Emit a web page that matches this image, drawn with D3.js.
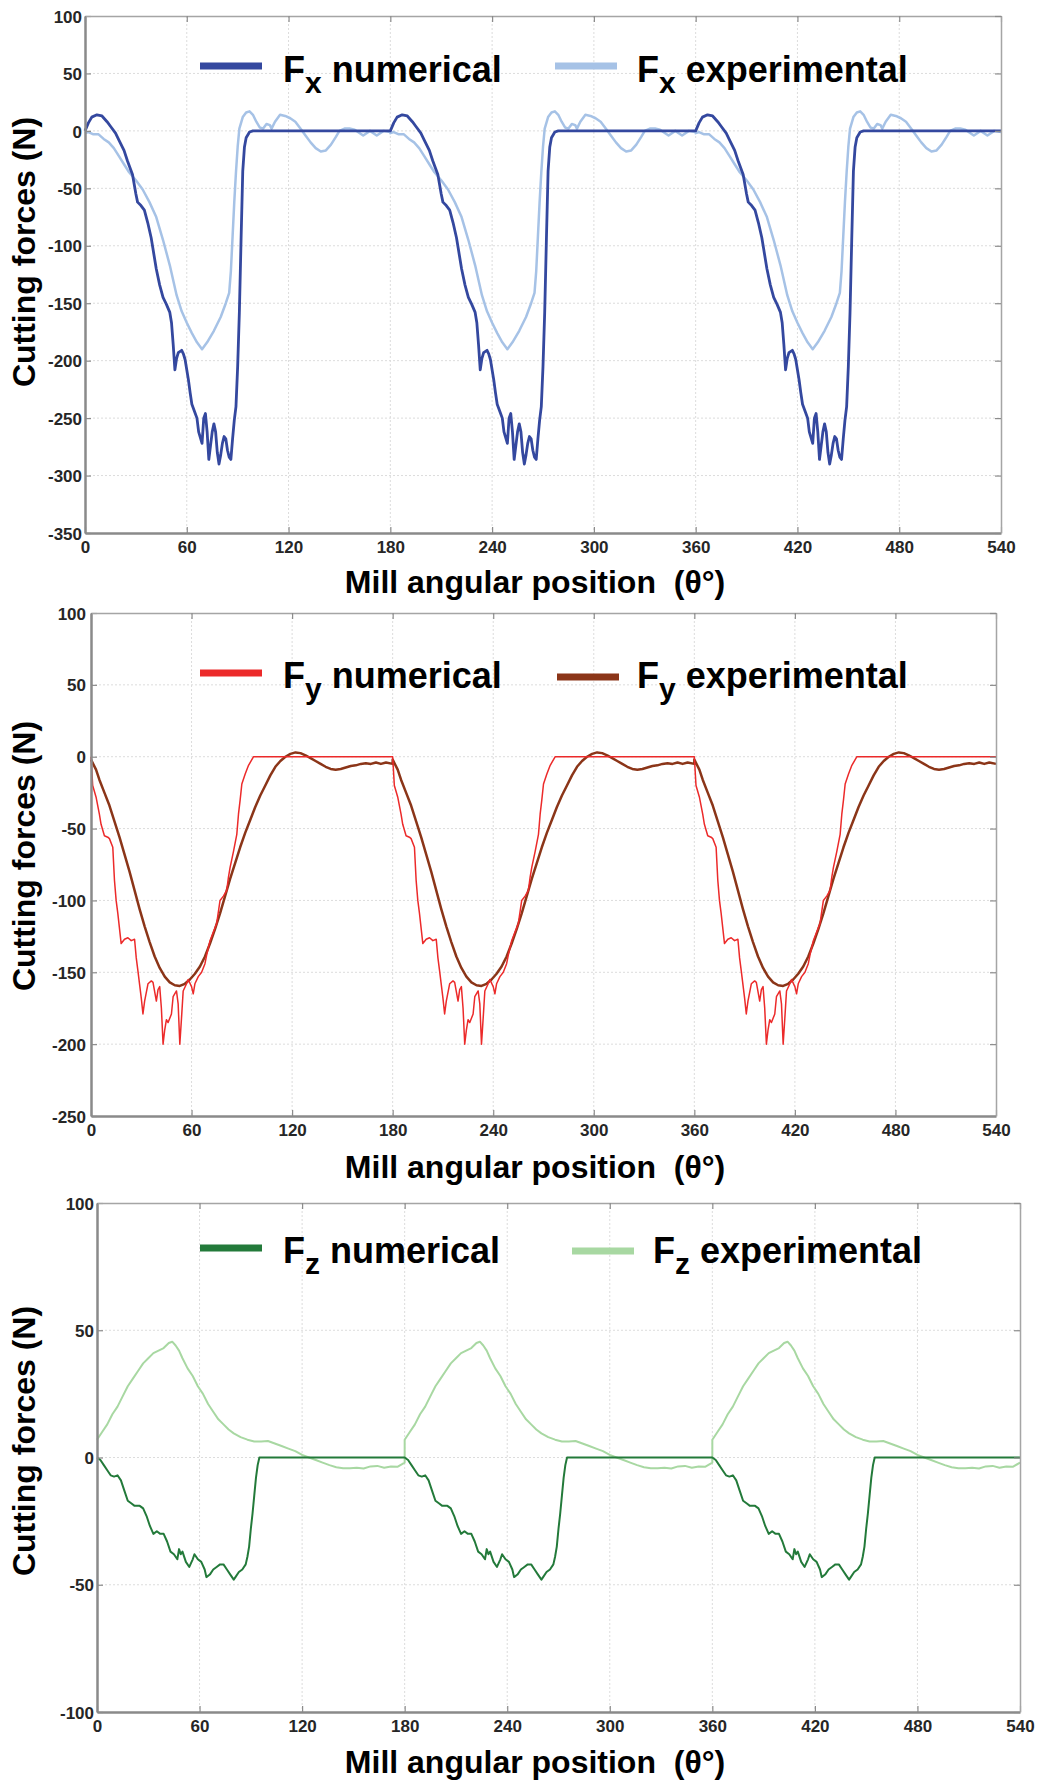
<!DOCTYPE html>
<html>
<head>
<meta charset="utf-8">
<script src="https://cdn.jsdelivr.net/npm/d3@7"></script>
<style>
    body { margin: 0; background: #fff; }
    svg { display: block; font-family: "Liberation Sans", Arial, sans-serif; }
    text { white-space: pre; }
</style>
</head>
<body>
<svg id="chart" width="1055" height="1782"></svg>
<script>
// angle ticks shared by the three plots
const thetaTicks = [0, 60, 120, 180, 240, 300, 360, 420, 480, 540];
// the profiles below cover one revolution (0-180 deg), shown three times
const revolutions = [0, 180, 360];

const fxTicks = [100, 50, 0, -50, -100, -150, -200, -250, -300, -350];
const fyTicks = [100, 50, 0, -50, -100, -150, -200, -250];
const fzTicks = [100, 50, 0, -50, -100];

// [theta, force N]
const fxNumerical = [[0,0],[2,7],[4,12],[7,14],[10,13],[13,8],[15,4],[18,-2],[20,-8],[23,-17],[25,-26],[28,-38],[30,-55],[31,-62],[33,-65],[35,-69],[37,-80],[39,-93],[40,-102],[42,-120],[44,-134],[46,-145],[48,-151],[50,-158],[51,-167],[52,-186],[53,-208],[54,-198],[55,-193],[57,-191],[58,-194],[59,-199],[61,-217],[62,-228],[63,-238],[65,-246],[66,-250],[67,-262],[69,-272],[70,-250],[71,-246],[72,-262],[73,-286],[74,-274],[75,-262],[76,-255],[77,-262],[78,-280],[79,-290],[80,-282],[81,-272],[82,-266],[83,-268],[84,-278],[85,-284],[86,-286],[87,-268],[88,-252],[89,-240],[90,-205],[91,-158],[92,-95],[93,-35],[94,-14],[95,-6],[97,-1],[99,0],[180,0]];
const fxExperimental = [[0,-2],[2,-1],[5,-3],[8,-3],[11,-7],[14,-10],[17,-15],[20,-22],[23,-29],[26,-36],[30,-43],[34,-51],[38,-62],[42,-75],[46,-95],[50,-117],[54,-143],[57,-157],[60,-167],[63,-176],[66,-184],[69,-190],[72,-184],[76,-174],[80,-162],[83,-150],[85,-141],[86,-122],[87,-92],[88,-62],[89,-36],[90,-14],[91,2],[93,12],[95,16],[97,17],[99,14],[101,8],[103,3],[105,2],[107,6],[109,5],[110,2],[112,8],[115,14],[118,13],[121,11],[124,8],[127,2],[130,-4],[133,-10],[136,-15],[139,-18],[142,-17],[145,-12],[148,-5],[150,0],[153,2],[156,2],[159,1],[162,-2],[164,-4],[166,-2],[168,0],[170,-2],[172,-4],[174,-2],[176,0],[180,-1]];

const fyNumerical = [[0,0],[1,-20],[3,-28],[5,-40],[6,-47],[8,-55],[10,-56],[11,-57],[13,-63],[14,-86],[15,-100],[16,-109],[18,-130],[20,-127],[22,-126],[24,-128],[26,-127],[27,-140],[28,-149],[30,-168],[31,-179],[32,-170],[34,-158],[36,-156],[37,-157],[39,-170],[40,-162],[41,-160],[42,-175],[43,-200],[44,-190],[45,-183],[46,-185],[48,-179],[49,-167],[51,-163],[52,-172],[53,-200],[54,-182],[55,-163],[57,-158],[58,-155],[60,-160],[61,-165],[62,-158],[64,-153],[66,-150],[68,-144],[69,-138],[71,-128],[73,-122],[75,-116],[77,-100],[79,-97],[81,-93],[82,-84],[83,-77],[85,-66],[87,-54],[88,-40],[89,-30],[90,-19],[92,-12],[94,-6],[97,0],[180,0]];
const fyExperimental = [[0,-2],[3,-9],[5,-16],[8,-25],[11,-34],[14,-45],[17,-56],[20,-68],[23,-80],[26,-93],[29,-106],[32,-118],[35,-129],[38,-139],[41,-147],[44,-153],[47,-157],[50,-159],[53,-159.5],[56,-158],[59,-155],[62,-151],[65,-146],[68,-139],[71,-130],[74,-120],[77,-109],[80,-97],[83,-85],[86,-74],[89,-63],[92,-53],[95,-44],[98,-35],[101,-27],[104,-20],[107,-13],[110,-7],[113,-3],[116,0],[119,2],[122,3],[125,2.5],[128,1],[131,-1],[134,-3],[137,-5],[140,-7],[143,-8.5],[146,-9],[149,-8.5],[152,-7.5],[155,-6.5],[158,-6],[161,-5],[164,-4.5],[167,-5],[170,-4],[173,-5],[176,-4],[180,-5]];

const fzNumerical = [[0,0],[2,-1],[4,-3],[6,-5],[8,-7],[10,-7.5],[12,-7],[14,-9],[16,-13],[18,-17],[20,-18],[22,-19],[25,-19],[27,-20],[29,-23],[31,-27],[33,-30],[35,-29],[37,-30],[39,-30],[41,-33],[43,-37],[45,-38],[47,-40],[48,-36],[49,-38],[50,-37],[52,-41],[54,-43],[56,-40],[57,-38],[59,-40],[61,-41],[63,-44],[64,-47],[66,-46],[68,-44],[70,-43],[72,-42],[74,-42],[76,-44],[78,-46],[80,-48],[81,-47],[83,-45],[85,-44],[87,-42],[88,-39],[89,-35],[90,-28],[91,-22],[92,-15],[93,-8],[94,-3],[95,0],[180,0]];
const fzExperimental = [[0,7],[3,10],[6,13],[9,17],[12,20],[15,24],[18,28],[21,31],[24,34],[27,37],[30,39],[33,41],[36,42],[39,43],[42,45],[44,45.5],[46,44],[48,42],[50,39],[53,35],[56,32],[59,28],[62,25],[65,21],[68,18],[71,15],[74,13],[77,11],[80,9.5],[84,8],[88,7],[92,6.3],[96,6.3],[100,6.5],[104,5.5],[108,4.5],[112,3.5],[116,2.5],[120,1],[124,0],[128,-1],[132,-2],[136,-3],[140,-3.8],[144,-4.2],[148,-4.2],[152,-4],[156,-4.3],[160,-3.5],[164,-3.3],[168,-4],[172,-3.5],[176,-3.6],[180,-2]];

const panels = [
    {
        ticks: fxTicks, left: 85, right: 1001, top: 16, bottom: 533, sub: "x",
        labelPad: 3, titleY: 593, yTitleY: 252,
        series: [
            { name: "numerical", values: fxNumerical, color: "#34489f", width: 2.8, lx: 200, ly: 66, tx: 283, ty: 82 },
            { name: "experimental", values: fxExperimental, color: "#a6c2e6", width: 2.5, lx: 555, ly: 66, tx: 637, ty: 82 }
        ]
    },
    {
        ticks: fyTicks, left: 91, right: 996, top: 613, bottom: 1116, sub: "y",
        labelPad: 5, titleY: 1178, yTitleY: 856,
        series: [
            { name: "numerical", values: fyNumerical, color: "#ec2a2a", width: 1.5, lx: 200, ly: 673, tx: 283, ty: 688 },
            { name: "experimental", values: fyExperimental, color: "#8b3518", width: 2.5, lx: 557, ly: 677, tx: 637, ty: 688 }
        ]
    },
    {
        ticks: fzTicks, left: 97, right: 1020, top: 1203, bottom: 1712, sub: "z",
        labelPad: 3, titleY: 1773, yTitleY: 1441,
        series: [
            { name: "numerical", values: fzNumerical, color: "#237a3a", width: 2, lx: 200, ly: 1248, tx: 283, ty: 1263 },
            { name: "experimental", values: fzExperimental, color: "#a8d8a2", width: 2, lx: 572, ly: 1251, tx: 653, ty: 1263 }
        ]
    }
];

const svg = d3.select("#chart");

function unroll(profile) {
    let pts = [];
    revolutions.forEach(r => profile.forEach(d => pts.push([d[0] + r, d[1]])));
    return pts;
}

function styleAxis(sel, color, width) {
    sel.select(".domain").attr("stroke", color).attr("stroke-width", width);
    sel.selectAll(".tick line").attr("stroke", "#8c8c8c").attr("stroke-width", 1.2);
    sel.selectAll(".tick text")
        .attr("fill", "#262626")
        .style("font-size", "17px")
        .style("font-weight", "bold")
        .style("font-family", "'Liberation Sans', Arial, sans-serif");
}

panels.forEach(p => {
    let x = d3.scaleLinear().domain([0, 540]).range([p.left, p.right]);
    let y = d3.scaleLinear()
        .domain([p.ticks[p.ticks.length - 1], p.ticks[0]])
        .range([p.bottom, p.top]);
    let g = svg.append("g");

    // dotted grid
    g.append("g").selectAll("line")
        .data(thetaTicks.slice(1, -1))
        .enter().append("line")
        .attr("x1", d => x(d)).attr("x2", d => x(d))
        .attr("y1", p.top).attr("y2", p.bottom)
        .attr("stroke", "#dcdcdc").attr("stroke-dasharray", "2,2");
    g.append("g").selectAll("line")
        .data(p.ticks.slice(1, -1))
        .enter().append("line")
        .attr("x1", p.left).attr("x2", p.right)
        .attr("y1", d => y(d)).attr("y2", d => y(d))
        .attr("stroke", "#dcdcdc").attr("stroke-dasharray", "2,2");

    // curves, experimental drawn first so the numerical one sits on top
    let line = d3.line().x(d => x(d[0])).y(d => y(d[1]));
    p.series.slice().reverse().forEach(s => {
        g.append("path")
            .datum(unroll(s.values))
            .attr("d", line)
            .attr("fill", "none")
            .attr("stroke", s.color)
            .attr("stroke-width", s.width)
            .attr("stroke-linejoin", "round");
    });

    // box with inward ticks
    let plain = d => String(d);
    let bottomAxis = g.append("g").attr("transform", `translate(0,${p.bottom})`)
        .call(d3.axisBottom(x).tickValues(thetaTicks).tickSize(-6).tickSizeOuter(0).tickPadding(8).tickFormat(plain));
    styleAxis(bottomAxis, "#8a8a8a", 2.5);
    let leftAxis = g.append("g").attr("transform", `translate(${p.left},0)`)
        .call(d3.axisLeft(y).tickValues(p.ticks).tickSize(-6).tickSizeOuter(0).tickPadding(p.labelPad).tickFormat(plain));
    styleAxis(leftAxis, "#8a8a8a", 2.5);
    leftAxis.selectAll(".tick text").attr("dy", "0.36em");
    let topAxis = g.append("g").attr("transform", `translate(0,${p.top})`)
        .call(d3.axisTop(x).tickValues(thetaTicks).tickSize(-6).tickSizeOuter(0).tickFormat(""));
    styleAxis(topAxis, "#a5a5a5", 1.5);
    let rightAxis = g.append("g").attr("transform", `translate(${p.right},0)`)
        .call(d3.axisRight(y).tickValues(p.ticks).tickSize(-6).tickSizeOuter(0).tickFormat(""));
    styleAxis(rightAxis, "#a5a5a5", 1.5);

    // titles
    g.append("text")
        .attr("x", 535).attr("y", p.titleY)
        .attr("text-anchor", "middle")
        .style("font-size", "32px").style("font-weight", "bold")
        .text("Mill angular position  (\u03b8\u00b0)");
    g.append("text")
        .attr("transform", `translate(35,${p.yTitleY}) rotate(-90)`)
        .attr("text-anchor", "middle")
        .style("font-size", "32px").style("font-weight", "bold")
        .text("Cutting forces (N)");

    // legend
    p.series.forEach(s => {
        g.append("line")
            .attr("x1", s.lx).attr("x2", s.lx + 62)
            .attr("y1", s.ly).attr("y2", s.ly)
            .attr("stroke", s.color).attr("stroke-width", 7);
        let t = g.append("text")
            .attr("x", s.tx).attr("y", s.ty)
            .style("font-size", "36px").style("font-weight", "bold");
        t.append("tspan").text("F");
        t.append("tspan").attr("dy", 11).style("font-size", "30px").text(p.sub);
        t.append("tspan").attr("dy", -11).text(" " + s.name);
    });
});
</script>
</body>
</html>
